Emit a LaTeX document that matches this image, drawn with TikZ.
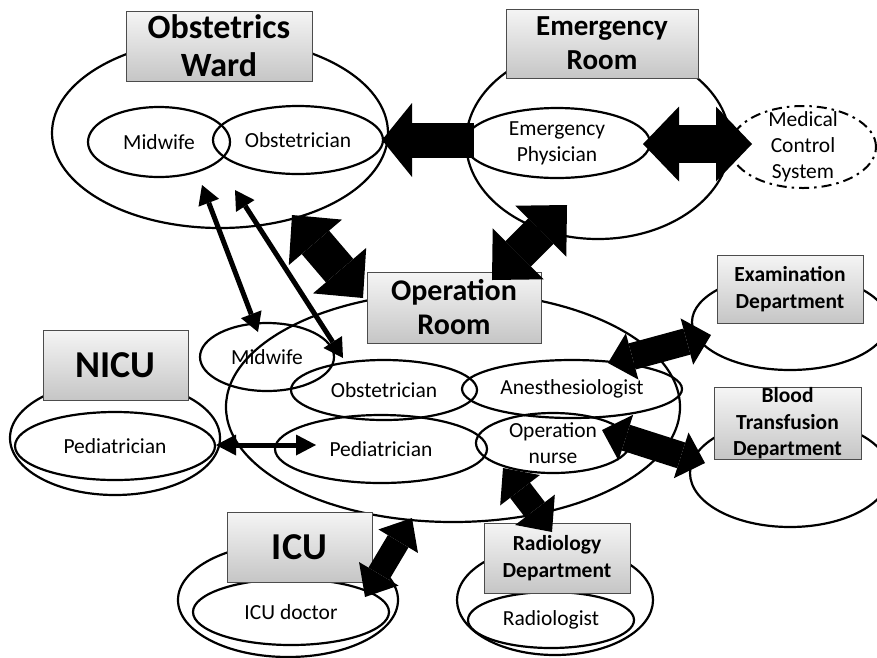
\documentclass[tikz,border=0pt]{standalone}
\usepackage{fontspec}
\setmainfont{Carlito}
\usetikzlibrary{shapes.geometric,arrows.meta}

\begin{document}
\begin{tikzpicture}[x=1pt,y=-1pt,
	zone/.style={ellipse,draw,line width=2.2pt,inner sep=0pt},
	role/.style={ellipse,draw,line width=2.2pt,inner sep=0pt,align=center,font=\fontsize{21.5}{26}\selectfont},
	dept/.style={rectangle,draw=gray!60!black,line width=0.9pt,top color=gray!8,bottom color=gray!45,align=center,inner sep=0pt},
	flow/.style n args={3}{line width=#1,>={Triangle[length=#3,width=#2,line width=0pt]}}
]
	\useasboundingbox (0,0) rectangle (877,657);

	\node[zone,minimum width=336pt,minimum height=190pt] (ow) at (220,133) {};
	\node[zone,minimum width=264pt,minimum height=194pt] (er) at (598,142) {};
	\node[zone,minimum width=454pt,minimum height=230pt] (or) at (453,407) {};
	\node[zone,minimum width=210pt,minimum height=114pt] (nicu) at (115,438) {};
	\node[zone,minimum width=220pt,minimum height=114pt] (icu) at (288,600) {};
	\node[zone,minimum width=196pt,minimum height=110pt] (rad) at (555,600) {};
	\node[zone,minimum width=196pt,minimum height=96pt] (exam) at (790,322) {};
	\node[zone,minimum width=200pt,minimum height=108pt] (bt) at (790,473) {};

	\node[role,minimum width=142pt,minimum height=70pt] (owmid) at (159,142) {Midwife};
	\node[role,minimum width=170pt,minimum height=68pt] (owobs) at (298,140) {Obstetrician};
	\node[role,minimum width=186pt,minimum height=70pt] (erphys) at (557,143) {Emergency\\Physician};
	\node[role,line width=2pt,dash pattern=on 10pt off 5pt on 2.5pt off 5pt,inner ysep=-15pt,minimum width=146pt,minimum height=82pt] (mcs) at (803,147) {Medical\\Control\\System};
	\node[role,minimum width=134pt,minimum height=68pt] (ormid) at (267,357) {Midwife};
	\node[role,minimum width=186pt,minimum height=60pt] (orobs) at (384,390) {Obstetrician};
	\node[role,minimum width=220pt,minimum height=58pt] (anes) at (572,389) {Anesthesiologist};
	\node[role,minimum width=212pt,minimum height=68pt] (orped) at (381,449) {Pediatrician};
	\node[role,minimum width=154pt,minimum height=60pt] (nurse) at (553,443) {Operation\\nurse};
	\node[role,minimum width=200pt,minimum height=68pt] (nicuped) at (115,446) {Pediatrician};
	\node[role,minimum width=196pt,minimum height=66pt] (icudoc) at (291,612) {ICU doctor};
	\node[role,minimum width=166pt,minimum height=56pt] (radio) at (551,620) {Radiologist};

	\node[dept,minimum width=186pt,minimum height=70pt,font=\fontsize{34}{38}\selectfont\bfseries] (owbox) at (219,46) {Obstetrics\\Ward};
	\node[dept,minimum width=192pt,minimum height=69pt,font=\fontsize{29}{34}\selectfont\bfseries] (erbox) at (602,43.5) {Emergency\\Room};
	\node[dept,minimum width=174pt,minimum height=71pt,font=\fontsize{30}{34}\selectfont\bfseries] (orbox) at (454,307.5) {Operation\\Room};
	\node[dept,minimum width=145pt,minimum height=70pt,font=\fontsize{38}{44}\selectfont\bfseries] (nicubox) at (115.5,365) {NICU};
	\node[dept,minimum width=145pt,minimum height=70pt,font=\fontsize{38}{44}\selectfont\bfseries] (icubox) at (299.5,547) {ICU};
	\node[dept,minimum width=146pt,minimum height=70pt,font=\fontsize{21.5}{26.5}\selectfont\bfseries] (radbox) at (557,558) {Radiology\\Department};
	\node[dept,minimum width=146pt,minimum height=68pt,font=\fontsize{21.5}{26.5}\selectfont\bfseries] (exambox) at (790,289) {Examination\\Department};
	\node[dept,minimum width=147pt,minimum height=69pt,font=\fontsize{21.5}{26.5}\selectfont\bfseries] (btbox) at (787.5,423.5) {Blood\\Transfusion\\Department};

	\coordinate (owin) at (382,140);
	\coordinate (erout) at (474,140);
	\coordinate (ermcs) at (643,144);
	\coordinate (mcsin) at (752,144);
	\coordinate (owlow) at (292,215);
	\coordinate (orleft) at (363,298);
	\coordinate (erlow) at (567,205);
	\coordinate (ortop) at (492,280);
	\coordinate (orlow) at (412,518);
	\coordinate (icutop) at (365,597);
	\coordinate (nursedown) at (503,468);
	\coordinate (radtop) at (552,532);
	\coordinate (anesright) at (608,363);
	\coordinate (examleft) at (711,335);
	\coordinate (nurseright) at (602,430);
	\coordinate (btleft) at (705,463);
	\coordinate (owmidlow) at (202,185);
	\coordinate (ormidtop) at (258,332);
	\coordinate (owobslow) at (235,190);
	\coordinate (orobstop) at (343,358);
	\coordinate (nicuout) at (216,445);
	\coordinate (orpedin) at (316,445);

	\draw[flow={5pt}{22pt}{19pt},<->] (owmidlow) -- (ormidtop);
	\draw[flow={5pt}{22pt}{19pt},<->] (owobslow) -- (orobstop);
	\draw[flow={5pt}{21pt}{20pt},<->] (nicuout) -- (orpedin);

	\draw[flow={35pt}{74pt}{30pt},->] (erout) -- (owin);
	\draw[flow={38pt}{75pt}{36pt},<->] (ermcs) -- (mcsin);
	\draw[flow={36pt}{70pt}{36pt},<->] (owlow) -- (orleft);
	\draw[flow={36pt}{72pt}{37pt},<->] (erlow) -- (ortop);
	\draw[flow={24pt}{46pt}{27pt},<->] (orlow) -- (icutop);
	\draw[flow={25pt}{50pt}{28pt},<->] (nursedown) -- (radtop);
	\draw[flow={27pt}{48pt}{25pt},<->] (anesright) -- (examleft);
	\draw[flow={27pt}{48pt}{25pt},<->] (nurseright) -- (btleft);
\end{tikzpicture}
\end{document}
